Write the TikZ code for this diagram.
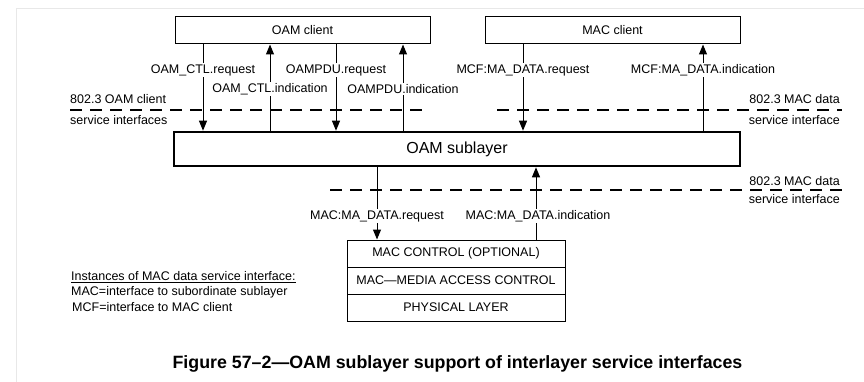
\documentclass[tikz,border=0pt]{standalone}
\usepackage{fontspec}
\setmainfont{Liberation Sans}
\usetikzlibrary{arrows.meta,calc}
\begin{document}
\begin{tikzpicture}[x=1pt,y=-1pt,
  every node/.style={font=\fontsize{12.5}{15}\selectfont, inner sep=0pt},
  box/.style={draw, line width=1pt, minimum height=27pt},
  thickbox/.style={draw, line width=2.6pt, minimum height=34pt},
  arr/.style={line width=1pt, -{Triangle[width=8pt,length=10pt]}},
  lbl/.style={fill=white, inner sep=1.5pt},
  dashline/.style={line width=2pt, dash pattern=on 12pt off 8pt},
  border/.style={draw=black!9, line width=1pt}]
\useasboundingbox (0,0) rectangle (864,382);
\draw[border] (16,382) -- (16,9) -- (864,9);

% boxes
\node[box, minimum width=255pt] (oamc) at (302.5,30.5) {OAM client};
\node[box, minimum width=255pt] (macc) at (612.5,30.5) {MAC client};
\node[thickbox, minimum width=566pt, font=\fontsize{16}{19}\selectfont] (oams) at (457,149) {OAM sublayer};
\node[box, minimum width=218pt] (mctl) at (456,253.5) {MAC CONTROL (OPTIONAL)};
\node[box, minimum width=218pt] (mac) at (456,280.5) {MAC\textemdash MEDIA ACCESS CONTROL};
\node[box, minimum width=218pt] (phy) at (456,307.5) {PHYSICAL LAYER};

% dashed interfaces
\coordinate (d1a) at (70,110);  \coordinate (d1b) at (427,110);
\coordinate (d2a) at (497,110); \coordinate (d2b) at (842,110);
\coordinate (d3a) at (330,190); \coordinate (d3b) at (842,190);
\draw[dashline] (d1a) -- (d1b);
\draw[dashline] (d2a) -- (d2b);
\draw[dashline] (d3a) -- (d3b);

% arrow x positions
\coordinate (x1) at (203,0);
\coordinate (x2) at (270,0);
\coordinate (x3) at (336,0);
\coordinate (x4) at (403,0);
\coordinate (x5) at (523,0);
\coordinate (x6) at (703,0);
\coordinate (x7) at (377,0);
\coordinate (x8) at (536,0);

\draw[arr] (oamc.south -| x1) -- (oams.north -| x1);
\draw[arr] (oams.north -| x2) -- (oamc.south -| x2);
\draw[arr] (oamc.south -| x3) -- (oams.north -| x3);
\draw[arr] (oams.north -| x4) -- (oamc.south -| x4);
\draw[arr] (macc.south -| x5) -- (oams.north -| x5);
\draw[arr] (oams.north -| x6) -- (macc.south -| x6);
\draw[arr] (oams.south -| x7) -- (mctl.north -| x7);
\draw[arr] (mctl.north -| x8) -- (oams.south -| x8);

% arrow labels
\node[lbl] (l1) at (203,70) {OAM\_CTL.request};
\node[lbl] (l2) at (270,89) {OAM\_CTL.indication};
\node[lbl] (l3) at (336,70) {OAMPDU.request};
\node[lbl] (l4) at (403,89) {OAMPDU.indication};
\node[lbl] (l5) at (523,70) {MCF:MA\_DATA.request};
\node[lbl] (l6) at (703,70) {MCF:MA\_DATA.indication};
\node[lbl] (l7) at (377,216) {MAC:MA\_DATA.request};
\node[lbl] (l8) at (538,216) {MAC:MA\_DATA.indication};

% interface labels
\node[anchor=west] (i1) at (70,99) {802.3 OAM client};
\node[anchor=west] (i2) at (70,120) {service interfaces};
\node[anchor=east] (i3) at (840,99) {802.3 MAC data};
\node[anchor=east] (i4) at (840,120) {service interface};
\node[anchor=east] (i5) at (840,181) {802.3 MAC data};
\node[anchor=east] (i6) at (840,199) {service interface};

% legend
\node[anchor=west] (g1) at (71,277) {\underline{Instances of MAC data service interface:}};
\node[anchor=west] (g2) at (71,292) {MAC=interface to subordinate sublayer};
\node[anchor=west] (g3) at (72,307) {MCF=interface to MAC client};

% caption
\node[font=\fontsize{17.8}{21}\selectfont\bfseries] (cap) at (457.5,364) {Figure 57\textendash 2\textemdash OAM sublayer support of interlayer service interfaces};
\end{tikzpicture}
\end{document}
